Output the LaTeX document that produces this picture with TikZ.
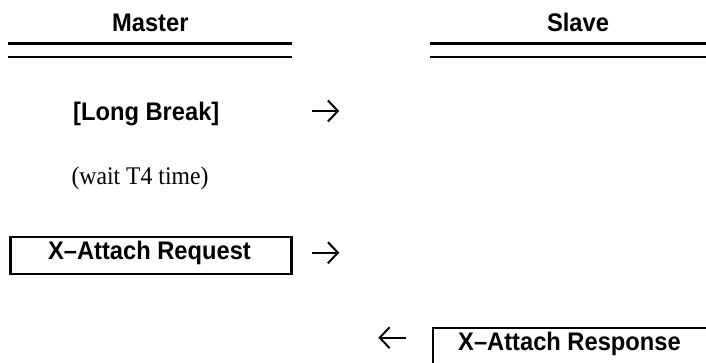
\documentclass[tikz,border=0pt]{standalone}
\usepackage{fontspec}
\setmainfont[FakeStretch=0.933]{Liberation Serif}
\newfontfamily\hv[FakeStretch=0.933]{Liberation Sans}
\usetikzlibrary{arrows.meta}
\begin{document}
\begin{tikzpicture}[x=1pt,y=-1pt,
  lbl/.style={inner sep=0pt, font=\hv\bfseries\fontsize{25.4}{30}\selectfont, anchor=base},
  note/.style={inner sep=0pt, font=\fontsize{25.4}{30}\selectfont, anchor=base},
  rule/.style={line width=2.4pt},
  msgbox/.style={draw, line width=2.3pt, minimum width=281pt, minimum height=37pt, inner sep=0pt, anchor=north west},
  msg/.style={line width=2pt, -{Straight Barb[length=10pt,width=21pt]}}]
\useasboundingbox (0,0) rectangle (706,362);
\clip (0,0) rectangle (706,362);
% headers
\node[lbl] (master) at (150.3,31) {Master};
\node[lbl] (slave) at (578,31) {Slave};
\draw[rule] (8,43.3) -- (291.7,43.3);
\draw[rule] (8,56.7) -- (291.7,56.7);
\draw[rule] (430,43.3) -- (710,43.3);
\draw[rule] (430,56.7) -- (710,56.7);
% long break
\node[lbl] (lb) at (146.3,120) {[Long Break]};
\coordinate (a1s) at (311.7,111);
\coordinate (a1e) at (339.3,111);
\draw[msg] (a1s) -- (a1e);
% wait
\node[note] (wait) at (140,184.5) {(wait T4 time)};
% request
\node[msgbox] (reqbox) at (9.3,236) {};
\node[lbl] (req) at (149.5,259.7) {X–Attach Request};
\coordinate (a2s) at (311.7,252.7);
\coordinate (a2e) at (339.3,252.7);
\draw[msg] (a2s) -- (a2e);
% response
\node[msgbox] (resbox) at (432,327) {};
\node[lbl] (res) at (569.5,350.5) {X–Attach Response};
\coordinate (a3s) at (406,337.7);
\coordinate (a3e) at (378.3,337.7);
\draw[msg] (a3s) -- (a3e);
\end{tikzpicture}
\end{document}
